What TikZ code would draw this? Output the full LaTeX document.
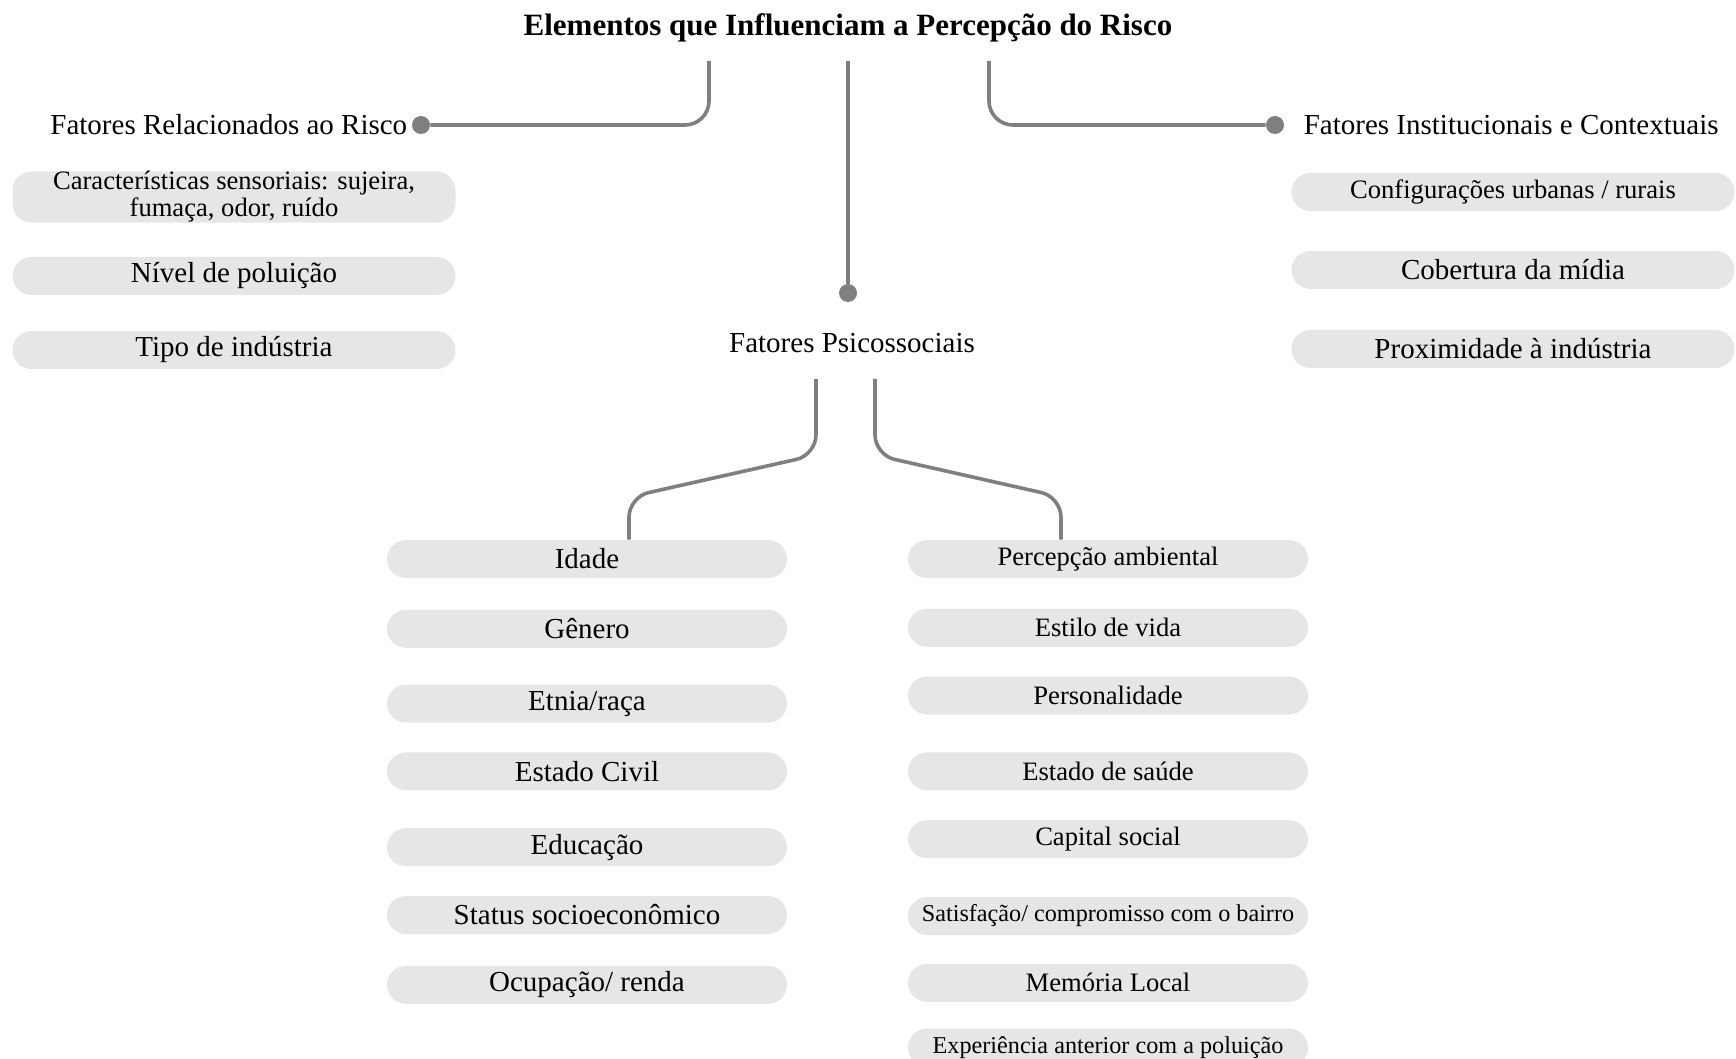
\documentclass[tikz,border=0pt]{standalone}
\usepackage{fontspec}
\setmainfont{Liberation Serif}
\usepackage{xcolor}
\usetikzlibrary{
	positioning,						% Relative positioning of the pills
	calc								% Calculate point coordinates
}
\definecolor{pillgray}{HTML}{E6E6E6}
\definecolor{linkgray}{HTML}{7F7F7F}

\begin{document}
\begin{tikzpicture}
		[
		,x=0.5pt
		,y=-0.5pt
		,pill/.style = {
			,fill=pillgray
			,rounded corners=9.5pt
			,minimum height=19pt
			,inner sep=0pt
			,align=center
			,font=\fontsize{14.5}{13.5}\selectfont}
		,wide_pill/.style = {
			,pill
			,minimum width=221.5pt}
		,mid_pill/.style = {
			,pill
			,minimum width=200pt}
		,small_text/.style = {
			,font=\fontsize{13.3}{13.5}\selectfont}
		,tiny_text/.style = {
			,font=\fontsize{12.1}{13}\selectfont}
		,head/.style = {
			,inner sep=0pt
			,font=\fontsize{14.5}{16}\selectfont}
		,dot/.style = {
			,circle
			,fill=linkgray
			,minimum size=9pt
			,inner sep=0pt}
		,link/.style = {
			,draw=linkgray
			,line width=1.8pt}
		]
		
		\useasboundingbox (0,0) rectangle (1736,1059);
		
		% Title
		\node[font=\fontsize{15.5}{18}\selectfont\bfseries] (title) at (848,28) {Elementos que Influenciam a Percepção do Risco};
		
		% Dots and headings
		\node[dot] (dRisco) at (421,125) {};
		\node[dot] (dPsico) at (848,293) {};
		\node[dot] (dInst)  at (1275,125) {};
		\node[head, left=2pt of dRisco]   (risco) {Fatores Relacionados ao Risco};
		\node[head, right=9.5pt of dInst] (inst)  {Fatores Institucionais e Contextuais};
		\node[head] (psico) at (852,343)          {Fatores Psicossociais};
		
		% Links from the title
		\coordinate (tL) at (709,61);
		\coordinate (tC) at (848,61);
		\coordinate (tR) at (989,61);
		\draw[link, rounded corners=12pt] (tL) |- (dRisco);
		\draw[link] (tC) -- (dPsico);
		\draw[link, rounded corners=12pt] (tR) |- (dInst);
		
		% Risk factors
		\node[wide_pill, small_text] (sens) at (234,197) {Características sensoriais: sujeira,\\fumaça, odor, ruído};
		\node[wide_pill]             (polu) at (234,276) {Nível de poluição};
		\node[wide_pill]             (tipo) at (234,350) {Tipo de indústria};
		
		% Institutional and contextual factors
		\node[wide_pill, small_text] (conf)  at (1513,192) {Configurações urbanas / rurais};
		\node[wide_pill]             (midia) at (1513,270) {Cobertura da mídia};
		\node[wide_pill]             (prox)  at (1513,349) {Proximidade à indústria};
		
		% Psychosocial factors, left column
		\node[mid_pill] (idade) at (587,559)          {Idade};
		\node[mid_pill, below=15.5pt of idade] (gen)    {Gênero};
		\node[mid_pill, below=18pt of gen]     (etnia)  {Etnia/raça};
		\node[mid_pill, below=14.5pt of etnia] (civil)  {Estado Civil};
		\node[mid_pill, below=18.5pt of civil] (educ)   {Educação};
		\node[mid_pill, below=14.5pt of educ]  (status) {Status socioeconômico};
		\node[mid_pill, below=15.5pt of status](ocup)   {Ocupação/ renda};
		
		% Psychosocial factors, right column
		\node[mid_pill, small_text] (amb) at (1108,559)            {Percepção ambiental};
		\node[mid_pill, small_text, below=15pt of amb]     (estilo)  {Estilo de vida};
		\node[mid_pill, small_text, below=14.5pt of estilo](pers)    {Personalidade};
		\node[mid_pill, small_text, below=18.5pt of pers]  (saude)   {Estado de saúde};
		\node[mid_pill, small_text, below=14.5pt of saude] (capital) {Capital social};
		\node[mid_pill, tiny_text, below=19pt of capital]  (satisf)  {Satisfação/ compromisso com o bairro};
		\node[mid_pill, small_text, below=14pt of satisf]  (memo)    {Memória Local};
		\node[mid_pill, tiny_text, below=13pt of memo]     (exper)   {Experiência anterior com a poluição};
		
		% Links from the psychosocial heading
		\coordinate (pL)  at (816,379);
		\coordinate (pLa) at (816,455);
		\coordinate (pLb) at (629,497);
		\coordinate (pR)  at (875,379);
		\coordinate (pRa) at (875,455);
		\coordinate (pRb) at (1061,497);
		\draw[link, rounded corners=10pt] (pL) -- (pLa) -- (pLb) -- (pLb |- idade.north);
		\draw[link, rounded corners=10pt] (pR) -- (pRa) -- (pRb) -- (pRb |- amb.north);
	\end{tikzpicture}
\end{document}
